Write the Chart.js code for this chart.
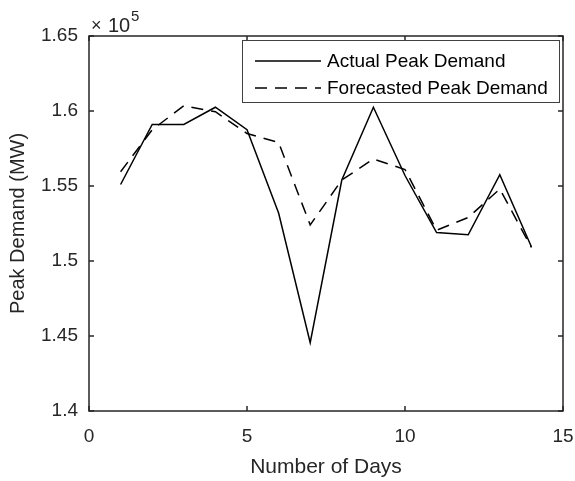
<!DOCTYPE html>
<html>
<head>
<meta charset="utf-8">
<script src="https://cdn.jsdelivr.net/npm/chart.js@4"></script>
<style>
  html, body { margin: 0; padding: 0; background: #fff; }
  #wrap { width: 575px; height: 481px; position: relative; }
</style>
</head>
<body>
<div id="wrap"><canvas id="chart" width="575" height="481"></canvas></div>
<script>
// ── DATA ──────────────────────────────────────────────────────────────────────
const days     = [1, 2, 3, 4, 5, 6, 7, 8, 9, 10, 11, 12, 13, 14];
const actual   = [155100, 159100, 159100, 160250, 158750, 153200, 144550, 155400, 160250, 155700, 151900, 151750, 155750, 150950];
const forecast = [155950, 158750, 160350, 159950, 158500, 157900, 152400, 155400, 156800, 156100, 152050, 152900, 154800, 150900];
const xTicks   = [0, 5, 10, 15];
const yTicks   = [140000, 145000, 150000, 155000, 160000, 165000];
const seriesNames = ['Actual Peak Demand', 'Forecasted Peak Demand'];

const FONT = "'Liberation Sans', Arial, Helvetica, sans-serif";
const INK  = '#262626';
const DASH = [12, 8];

// ── AXES BOX, INWARD TICKS, EXPONENT, LEGEND ─────────────────────────────────
const matlabAxes = {
  id: 'matlabAxes',
  afterDraw(chart) {
    const ctx = chart.ctx;
    const { left, right, top, bottom } = chart.chartArea;
    const xs = chart.scales.x, ys = chart.scales.y;
    ctx.save();
    ctx.strokeStyle = INK;
    ctx.lineWidth = 1.5;
    ctx.strokeRect(left, top, right - left, bottom - top);

    // inward ticks on all four sides
    ctx.beginPath();
    xTicks.forEach(v => {
      const x = xs.getPixelForValue(v);
      ctx.moveTo(x, bottom); ctx.lineTo(x, bottom - 5);
      ctx.moveTo(x, top);    ctx.lineTo(x, top + 5);
    });
    yTicks.forEach(v => {
      const y = ys.getPixelForValue(v);
      ctx.moveTo(left, y);  ctx.lineTo(left + 5, y);
      ctx.moveTo(right, y); ctx.lineTo(right - 5, y);
    });
    ctx.stroke();

    // x10^5 multiplier
    ctx.fillStyle = INK;
    ctx.textBaseline = 'alphabetic';
    ctx.textAlign = 'left';
    ctx.font = '18px ' + FONT;
    ctx.fillText('\u00d7', left + 2, top - 5);
    ctx.font = '20px ' + FONT;
    ctx.fillText('10', left + 19, top - 4);
    ctx.font = '15px ' + FONT;
    ctx.fillText('5', left + 42, top - 15);

    // legend box
    const bx = 242, by = 40, bw = 317, bh = 62;
    ctx.fillStyle = '#fff';
    ctx.fillRect(bx, by, bw, bh);
    ctx.strokeStyle = '#404040';
    ctx.lineWidth = 1;
    ctx.strokeRect(bx + 0.5, by + 0.5, bw, bh);

    const rows = [by + 21, by + 48];
    ctx.strokeStyle = '#000';
    ctx.lineWidth = 1.5;
    rows.forEach((ry, i) => {
      ctx.setLineDash(i === 0 ? [] : DASH);
      ctx.beginPath();
      ctx.moveTo(255, ry);
      ctx.lineTo(321, ry);
      ctx.stroke();
    });
    ctx.setLineDash([]);
    ctx.fillStyle = '#000';
    ctx.font = '19px ' + FONT;
    ctx.textBaseline = 'middle';
    rows.forEach((ry, i) => ctx.fillText(seriesNames[i], 327, ry + 1));
    ctx.restore();
  }
};

// ── CHART ─────────────────────────────────────────────────────────────────────
new Chart(document.getElementById('chart'), {
  type: 'line',
  data: {
    datasets: [
      {
        label: seriesNames[0],
        data: days.map((d, i) => ({ x: d, y: actual[i] })),
        borderColor: '#000',
        borderWidth: 1.5,
        pointRadius: 0,
        tension: 0,
        fill: false
      },
      {
        label: seriesNames[1],
        data: days.map((d, i) => ({ x: d, y: forecast[i] })),
        borderColor: '#000',
        borderWidth: 1.5,
        borderDash: DASH,
        pointRadius: 0,
        tension: 0,
        fill: false
      }
    ]
  },
  options: {
    responsive: false,
    animation: false,
    layout: { padding: { left: 0, right: 12, top: 36, bottom: 0 } },
    plugins: { legend: { display: false }, tooltip: { enabled: false } },
    scales: {
      x: {
        type: 'linear',
        min: 0, max: 15,
        afterFit: s => { s.height = 70; s.paddingLeft = 0; s.paddingRight = 0; },
        afterBuildTicks: s => { s.ticks = xTicks.map(v => ({ value: v })); },
        grid: { display: false, drawTicks: false },
        border: { display: false },
        ticks: { color: INK, font: { family: FONT, size: 19 }, padding: 14, maxRotation: 0 },
        title: { display: true, text: 'Number of Days', color: INK,
                 font: { family: FONT, size: 21 }, padding: { top: 0, bottom: 1 } }
      },
      y: {
        min: 140000, max: 165000,
        afterFit: s => { s.width = 89; s.paddingTop = 0; s.paddingBottom = 0; },
        afterBuildTicks: s => { s.ticks = yTicks.map(v => ({ value: v })); },
        grid: { display: false, drawTicks: false },
        border: { display: false },
        ticks: {
          color: INK, font: { family: FONT, size: 19 }, padding: 11,
          callback: v => String(Number((v / 1e5).toFixed(2)))
        },
        title: { display: true, text: 'Peak Demand (MW)', color: INK,
                 font: { family: FONT, size: 20 }, padding: { top: 6, bottom: 0 } }
      }
    }
  },
  plugins: [matlabAxes]
});
</script>
</body>
</html>
